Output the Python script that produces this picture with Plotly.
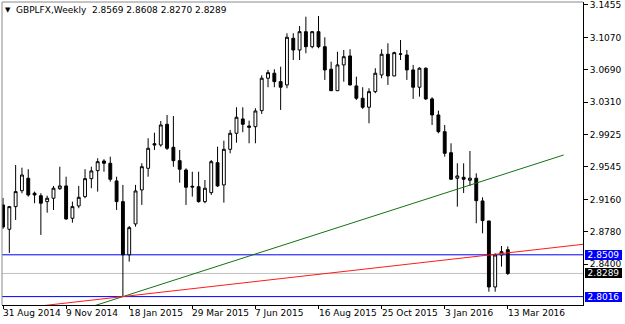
import pandas as pd
import plotly.graph_objects as go

# ---------------- data ----------------
dates = pd.date_range('2014-08-31', periods=81, freq='7D')

open_ = [2.9097, 2.8810, 2.9077, 2.9265, 2.9412, 2.9235, 2.9206, 2.9136, 2.9176, 2.9289,
         2.9321, 2.8940, 2.9085, 2.9195, 2.9407, 2.9501, 2.9615, 2.9588, 2.9380, 2.9136,
         2.8509, 2.8873, 2.9274, 2.9529, 2.9819, 2.9804, 3.0048, 2.9777, 2.9619, 2.9509,
         2.9317, 2.9312, 2.9136, 2.9242, 2.9595, 2.9333, 2.9753, 2.9942, 3.0111, 3.0028,
         3.0020, 3.0209, 3.0591, 3.0650, 3.0551, 3.0512, 3.1062, 3.0924, 3.1140, 3.0963,
         3.1140, 3.0963, 3.0697, 3.0444, 3.0748, 3.0854, 3.0500, 3.0355, 3.0249, 3.0433,
         3.0630, 3.0874, 3.0618, 3.0874, 3.0865, 3.0689, 3.0485, 3.0709, 3.0347, 3.0158,
         2.9961, 2.9713, 2.9412, 2.9423, 2.9388, 2.9412, 2.9144, 2.8908, 2.8130, 2.8507,
         2.8569]
high = [2.9179, 2.9085, 2.9568, 2.9536, 2.9518, 2.9254, 2.9235, 2.9206, 2.9321, 2.9548,
        2.9430, 2.9136, 2.9321, 2.9518, 2.9548, 2.9647, 2.9636, 2.9666, 2.9430, 2.9333,
        2.8849, 2.9333, 2.9588, 2.9883, 2.9949, 3.0087, 3.0158, 3.0146, 2.9745, 2.9529,
        2.9489, 2.9489, 2.9391, 2.9627, 2.9784, 2.9855, 2.9981, 3.0249, 3.0249, 3.0091,
        3.0237, 3.0625, 3.0689, 3.0697, 3.0727, 3.1121, 3.1121, 3.1207, 3.1317, 3.1148,
        3.1325, 3.1074, 3.0786, 3.0904, 3.0924, 3.0933, 3.0610, 3.0485, 3.0473, 3.0709,
        3.0933, 3.1003, 3.0904, 3.1042, 3.0924, 3.0748, 3.0720, 3.0718, 3.0367, 3.0209,
        3.0040, 2.9824, 2.9588, 2.9588, 2.9733, 2.9470, 2.9187, 2.8908, 2.8527, 2.8613,
        2.8608]
low = [2.8814, 2.8531, 2.8920, 2.9235, 2.9195, 2.9117, 2.8743, 2.9006, 2.9038, 2.9274,
       2.8920, 2.8888, 2.9058, 2.9176, 2.9294, 2.9254, 2.9489, 2.9371, 2.9038, 2.8016,
       2.8428, 2.8841, 2.9097, 2.9430, 2.9745, 2.9784, 2.9745, 2.9548, 2.9360, 2.9097,
       2.9195, 2.9124, 2.9117, 2.9215, 2.9310, 2.9124, 2.9706, 2.9831, 2.9954, 2.9824,
       2.9824, 3.0170, 3.0485, 3.0485, 3.0217, 3.0473, 3.0806, 3.0806, 3.0886, 3.0944,
       3.0944, 3.0571, 3.0441, 3.0441, 3.0551, 3.0506, 3.0335, 3.0229, 3.0060, 3.0414,
       3.0591, 3.0512, 3.0614, 3.0806, 3.0571, 3.0347, 3.0374, 3.0335, 3.0040, 2.9942,
       2.9666, 2.9391, 2.9077, 2.9238, 2.9321, 2.8881, 2.8763, 2.8074, 2.8074, 2.8370,
       2.8270]
close = [2.8837, 2.9077, 2.9254, 2.9450, 2.9215, 2.9215, 2.9117, 2.9176, 2.9294, 2.9321,
         2.8932, 2.9077, 2.9187, 2.9407, 2.9498, 2.9607, 2.9588, 2.9400, 2.9136, 2.8509,
         2.8829, 2.9262, 2.9548, 2.9765, 2.9804, 3.0040, 2.9765, 2.9619, 2.9518, 2.9305,
         2.9309, 2.9136, 2.9294, 2.9607, 2.9321, 2.9753, 2.9942, 3.0131, 3.0048, 3.0013,
         3.0205, 3.0591, 3.0657, 3.0551, 3.0485, 3.1074, 3.0924, 3.1140, 3.0963, 3.1140,
         3.0963, 3.0689, 3.0444, 3.0748, 3.0845, 3.0512, 3.0355, 3.0249, 3.0433, 3.0650,
         3.0874, 3.0618, 3.0893, 3.0877, 3.0689, 3.0485, 3.0709, 3.0347, 3.0158, 2.9961,
         2.9706, 2.9400, 2.9439, 2.9400, 2.9412, 2.9147, 2.8912, 2.8130, 2.8507, 2.8546,
         2.8289]

# trend lines (two anchor points each)
green_line_dates = ['2014-11-09', '2016-05-14']
green_line_prices = [2.7801, 2.9686]
red_line_dates = ['2014-10-05', '2016-07-31']
red_line_prices = [2.7898, 2.8701]

# horizontal levels
level_high = 2.8509
level_low = 2.8016
bid_price = 2.8289

# axis ticks
y_ticks = [3.1455, 3.1070, 3.0690, 3.0310, 2.9925, 2.9545, 2.9160, 2.8780, 2.8400]
y_tick_text = ['3.1455', '3.1070', '3.0690', '3.0310', '2.9925', '2.9545', '2.9160', '2.8780', '2.8400']
x_tick_dates = ['2014-08-31', '2014-11-09', '2015-01-18', '2015-03-29', '2015-06-07',
                '2015-08-16', '2015-10-25', '2016-01-03', '2016-03-13']
x_tick_text = ['31 Aug 2014', '9 Nov 2014', '18 Jan 2015', '29 Mar 2015', '7 Jun 2015',
               '16 Aug 2015', '25 Oct 2015', '3 Jan 2016', '13 Mar 2016']

title_text = 'GBPLFX,Weekly\u00a0 2.8569 2.8608 2.8270 2.8289'

FONT = 'DejaVu Sans'

# ---------------- figure ----------------
fig = go.Figure()

fig.add_trace(go.Candlestick(
    x=dates, open=open_, high=high, low=low, close=close,
    increasing=dict(line=dict(color='black', width=1), fillcolor='white'),
    decreasing=dict(line=dict(color='black', width=1), fillcolor='black'),
    whiskerwidth=0, showlegend=False, hoverinfo='skip'))

fig.add_trace(go.Scatter(x=green_line_dates, y=green_line_prices, mode='lines',
                         line=dict(color='#127312', width=1), showlegend=False, hoverinfo='skip'))
fig.add_trace(go.Scatter(x=red_line_dates, y=red_line_prices, mode='lines',
                         line=dict(color='#ff1a1a', width=1), showlegend=False, hoverinfo='skip'))

shapes = [
    dict(type='line', xref='paper', x0=0, x1=1, yref='y', y0=level_high, y1=level_high,
         line=dict(color='#0000ff', width=1), layer='below'),
    dict(type='line', xref='paper', x0=0, x1=1, yref='y', y0=level_low, y1=level_low,
         line=dict(color='#0000ff', width=1), layer='below'),
    dict(type='line', xref='paper', x0=0, x1=1, yref='y', y0=bid_price, y1=bid_price,
         line=dict(color='#c0c0c0', width=1), layer='below'),
    # left & top frame
    dict(type='line', xref='paper', x0=0, x1=0, yref='paper', y0=0, y1=1,
         line=dict(color='#8a8a8a', width=1)),
    dict(type='line', xref='paper', x0=0, x1=1, yref='paper', y0=1, y1=1,
         line=dict(color='#8a8a8a', width=1)),
]

annotations = [
    dict(text='\u25bc', xref='paper', yref='paper', x=0, y=1, xanchor='left', yanchor='top',
         xshift=1, yshift=-2, showarrow=False, font=dict(family=FONT, size=7, color='black')),
    dict(text=title_text, xref='paper', yref='paper', x=0, y=1, xanchor='left', yanchor='top',
         xshift=12, yshift=-1, showarrow=False, font=dict(family=FONT, size=9, color='black')),
]
for d, t in zip(x_tick_dates, x_tick_text):
    annotations.append(dict(text=t, x=d, xref='x', y=0, yref='paper', xanchor='left',
                            yanchor='top', xshift=-2, yshift=-1, showarrow=False,
                            font=dict(family=FONT, size=9, color='black')))
for val, bg in [(level_high, '#0000ff'), (bid_price, '#000000'), (level_low, '#0000ff')]:
    annotations.append(dict(text=f'{val:.4f}', x=1, xref='paper', y=val, yref='y',
                            xanchor='left', yanchor='middle', xshift=2, showarrow=False,
                            bgcolor=bg, borderpad=0, borderwidth=0, width=37, height=10,
                            font=dict(family=FONT, size=9, color='white')))

fig.update_layout(
    width=625, height=324,
    margin=dict(l=2, r=42, t=2, b=19),
    paper_bgcolor='white', plot_bgcolor='white',
    showlegend=False,
    boxgap=0.35,
    shapes=shapes,
    annotations=annotations,
    xaxis=dict(type='date', range=['2014-08-29 21:00', '2016-06-04 10:00'],
               rangeslider=dict(visible=False), showgrid=False, zeroline=False,
               showline=True, linecolor='black', linewidth=1,
               ticks='outside', ticklen=3, tickcolor='black',
               tickvals=x_tick_dates, showticklabels=False, automargin=False),
    yaxis=dict(side='right', range=[2.7917, 3.1490], showgrid=False, zeroline=False,
               showline=True, linecolor='black', linewidth=1,
               ticks='outside', ticklen=4, tickcolor='black',
               tickvals=y_ticks, ticktext=y_tick_text, automargin=False,
               tickfont=dict(family=FONT, size=9, color='black')),
)

fig.write_html('out.html')
